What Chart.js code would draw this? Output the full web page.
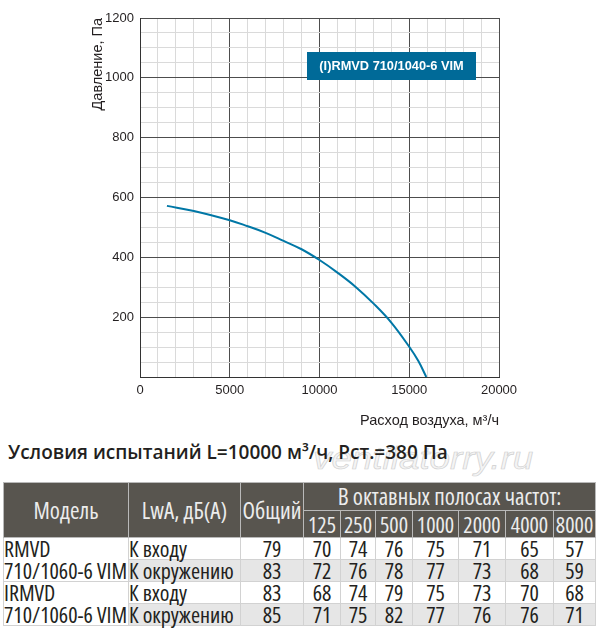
<!DOCTYPE html>
<html>
<head>
<meta charset="utf-8">
<script src="https://cdn.jsdelivr.net/npm/chart.js@4.4.0/dist/chart.umd.min.js"></script>
<style>
  body { margin: 0; background: #fff; width: 600px; height: 643px; position: relative; overflow: hidden; }
  #chartBox { position: absolute; left: 0; top: 0; width: 600px; height: 430px; }
  #mark { position: absolute; left: 313px; top: 440px; font: italic 32px "Liberation Sans", sans-serif;
          color: #f4f4f4; -webkit-text-stroke: 0.6px #cfcfcf; white-space: nowrap;
          transform: scaleX(1.15); transform-origin: left top; }
  #title { position: absolute; left: 8px; top: 439px; font: 600 19px "Open Sans", sans-serif; color: #231f20; white-space: nowrap; }
  #noise { position: absolute; left: 3px; top: 482px; width: 592px; border-collapse: collapse; table-layout: fixed;
           font-family: "Liberation Sans Narrow", "Open Sans", sans-serif; font-stretch: condensed; font-size: 22px; color: #231f20; }
  #noise td, #noise th { padding: 0; white-space: nowrap; overflow: visible; line-height: 21px; }
  #noise th { background: #58554f; color: #ececec; font-weight: normal; border: 1px solid #b9b9b9; font-size: 22px; }
  #noise th.big { font-size: 23px; }
  #noise td { border: 1px solid #d2d2d2; text-align: center; }
  #noise td.model { text-align: left; background: #fff; }
  #noise tr.first td.model { border-bottom: none; }
  #noise tr.second td.model { border-top: none; }
  #noise td.kind { text-align: left; }
  #noise tr.second td:not(.model) { background: #e6e6e6; }
</style>
</head>
<body>
<div id="chartBox"><canvas id="fanChart"></canvas></div>
<div id="mark">ventilatorry.ru</div>
<div id="title">Условия испытаний L=10000 м³/ч, Рст.=380 Па</div>
<table id="noise"></table>
<script>
// fan curve
const flowRates = [1500, 3000, 5000, 6000, 7000, 8000, 9000, 10000, 11000, 12000, 13000, 14000, 15000, 15500, 15950];
const pressures = [572, 555, 524, 504, 482, 455, 427, 391, 349, 302, 246, 182, 101, 54, 0];
const xLabels = [0, 5000, 10000, 15000, 20000];
const yLabels = [200, 400, 600, 800, 1000, 1200];
const tagText = '(I)RMVD 710/1040-6 VIM';

// noise table
const bandFreqs = ['125', '250', '500', '1000', '2000', '4000', '8000'];
const modelLines = ['RMVD', '710/1060-6 VIM', 'IRMVD', '710/1060-6 VIM'];
const rowLabels = ['К входу', 'К окружению', 'К входу', 'К окружению'];
const totalLevels = [79, 83, 83, 85];
const bandLevels = [
    [70, 74, 76, 75, 71, 65, 57],
    [72, 76, 78, 77, 73, 68, 59],
    [68, 74, 79, 75, 73, 70, 68],
    [71, 75, 82, 77, 76, 76, 71],
];

const colWidths = [125, 112, 63, 37, 35, 37, 46, 47, 48, 42];

// build table
const table = document.getElementById('noise');
let html = '<colgroup>' + colWidths.map(w => '<col style="width:' + w + 'px">').join('') + '</colgroup>';
html += '<tr style="height:28px"><th class="big" rowspan="2">Модель</th><th class="big" rowspan="2">LwA, дБ(A)</th><th class="big" rowspan="2">Общий</th>' +
    '<th class="big" colspan="' + bandFreqs.length + '">В октавных полосах частот:</th></tr>';
html += '<tr style="height:27px">' + bandFreqs.map(f => '<th>' + f + '</th>').join('') + '</tr>';
rowLabels.forEach((label, i) => {
    const cls = i % 2 === 0 ? 'first' : 'second';
    html += '<tr class="' + cls + '" style="height:21px"><td class="model">' + modelLines[i] + '</td>' +
        '<td class="kind">' + label + '</td><td>' + totalLevels[i] + '</td>' +
        bandLevels[i].map(v => '<td>' + v + '</td>').join('') + '</tr>';
});
table.innerHTML = html;

const modelTag = {
    id: 'modelTag',
    afterDatasetsDraw(chart) {
        const { ctx, chartArea } = chart;
        const x = chartArea.left + 167;
        const y = chartArea.top + 34;
        ctx.save();
        ctx.fillStyle = '#006a98';
        ctx.fillRect(x, y, 169, 28);
        ctx.fillStyle = '#ffffff';
        ctx.font = 'bold 12.8px "Liberation Sans", Arial, sans-serif';
        ctx.textAlign = 'center';
        ctx.textBaseline = 'middle';
        ctx.fillText(tagText, x + 84.5, y + 14.5);
        ctx.restore();
    }
};

const tickFont = { family: '"Liberation Sans", Arial, sans-serif', size: 13 };
const titleFont = { family: '"Liberation Sans", Arial, sans-serif', size: 14.5 };

const ctx = document.getElementById('fanChart').getContext('2d');
const chart = new Chart(ctx, {
    type: 'scatter',
    data: {
        datasets: [{
            data: flowRates.map((q, i) => ({ x: q, y: pressures[i] })),
            showLine: true,
            tension: 0.4,
            borderColor: '#0077a6',
            borderWidth: 2,
            pointRadius: 0,
            fill: false,
        }]
    },
    options: {
        responsive: true,
        maintainAspectRatio: false,
        animation: false,
        layout: { padding: { left: 88, top: 18, right: 101, bottom: 0 } },
        plugins: { legend: { display: false }, tooltip: { enabled: false } },
        scales: {
            x: {
                type: 'linear',
                min: 0,
                max: 20000,
                afterFit: (scale) => { scale.height = 53; },
                border: { display: true, color: '#333' },
                grid: {
                    drawTicks: false,
                    color: (c) => (c.tick && xLabels.includes(c.tick.value)) ? '#4d4d4d' : '#dadada',
                },
                ticks: {
                    stepSize: 1000,
                    autoSkip: false,
                    maxRotation: 0,
                    padding: 6,
                    color: '#231f20',
                    font: tickFont,
                    callback: (v) => xLabels.includes(v) ? String(v) : '',
                },
                title: {
                    display: true,
                    text: 'Расход воздуха, м³/ч',
                    align: 'end',
                    color: '#231f20',
                    font: titleFont,
                    padding: { top: 7, bottom: 0 },
                },
            },
            y: {
                min: 0,
                max: 1200,
                afterFit: (scale) => { scale.width = 52; },
                border: { display: true, color: '#333' },
                grid: {
                    drawTicks: false,
                    color: (c) => (c.tick && (c.tick.value % 200 === 0)) ? '#4d4d4d' : '#dadada',
                },
                ticks: {
                    stepSize: 50,
                    autoSkip: false,
                    padding: 6,
                    color: '#231f20',
                    font: tickFont,
                    callback: (v) => yLabels.includes(v) ? String(v) : '',
                },
                title: {
                    display: true,
                    text: 'Давление, Па',
                    align: 'end',
                    color: '#231f20',
                    font: titleFont,
                    padding: { top: 1, bottom: 0 },
                },
            },
        },
    },
    plugins: [modelTag],
});
</script>
</body>
</html>
